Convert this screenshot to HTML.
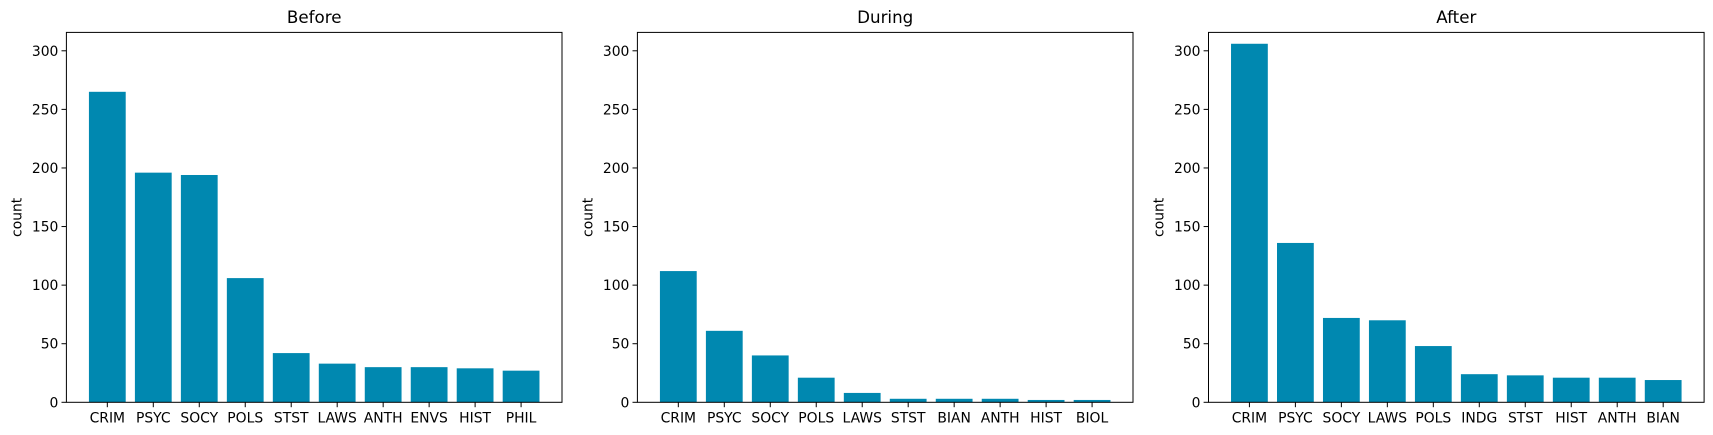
<!DOCTYPE html>
<html><head><meta charset="utf-8"><style>
body{margin:0;background:#fff;}
svg{display:block;font-family:"DejaVu Sans","Liberation Sans",sans-serif;}
</style></head><body>
<svg id="chart" width="1713" height="435"></svg>
<script>
const titles = ["Before","During","After"];
const catsBefore = ["CRIM","PSYC","SOCY","POLS","STST","LAWS","ANTH","ENVS","HIST","PHIL"];
const valsBefore = [265,196,194,106,42,33,30,30,29,27];
const catsDuring = ["CRIM","PSYC","SOCY","POLS","LAWS","STST","BIAN","ANTH","HIST","BIOL"];
const valsDuring = [112,61,40,21,8,3,3,3,2,2];
const catsAfter = ["CRIM","PSYC","SOCY","LAWS","POLS","INDG","STST","HIST","ANTH","BIAN"];
const valsAfter = [306,136,72,70,48,24,23,21,21,19];
const yTicks = [0,50,100,150,200,250,300];
const yMax = 315.7;

const NS="http://www.w3.org/2000/svg";
const svg=document.getElementById('chart');
function mk(tag,attrs,parent){const e=document.createElementNS(NS,tag);for(const k in attrs)e.setAttribute(k,attrs[k]);(parent||svg).appendChild(e);return e;}
const panels=[{cats:catsBefore,vals:valsBefore,left:66.4},{cats:catsDuring,vals:valsDuring,left:637.4},{cats:catsAfter,vals:valsAfter,left:1208.5}];
const W=495.6, axTop=32.4, axBottom=402.3;
panels.forEach((p,pi)=>{
  const g=mk('g',{});
  
  
  const n=p.cats.length;
  const xlo=-0.4-0.05*(n-1+0.8), xhi=n-1+0.4+0.05*(n-1+0.8);
  const xs=v=>p.left+(v-xlo)/(xhi-xlo)*W;
  const ys=v=>axBottom-v/yMax*(axBottom-axTop);
  p.vals.forEach((v,i)=>{
    const r=mk('rect',{x:xs(i-0.4),y:ys(v),width:xs(i+0.4)-xs(i-0.4),height:ys(0)-ys(v),fill:'#0088b0'},g);
    
    
    mk('line',{x1:xs(i),x2:xs(i),y1:axBottom,y2:axBottom+4.9,stroke:'#000','stroke-width':1},g);
    const t=mk('text',{x:xs(i),y:axBottom+20,'text-anchor':'middle','font-size':13.9,fill:'#000'},g);
    t.textContent=p.cats[i];
    
    
  });
  yTicks.forEach(v=>{
    mk('line',{x1:p.left-4.9,x2:p.left,y1:ys(v),y2:ys(v),stroke:'#000','stroke-width':1},g);
    const t=mk('text',{x:p.left-8,y:ys(v)+5,'text-anchor':'end','font-size':13.9,fill:'#000'},g);
    t.textContent=v;
    
    
  });
  const fr=mk('rect',{x:p.left,y:axTop,width:W,height:axBottom-axTop,fill:'none',stroke:'#000','stroke-width':1},g);
  
  
  const tt=mk('text',{x:p.left+W/2,y:23,'text-anchor':'middle','font-size':16.7,fill:'#000'},g);
  tt.textContent=titles[pi];
  
  
  const yl=mk('text',{x:0,y:0,'text-anchor':'middle','font-size':13.9,fill:'#000',transform:`translate(${p.left-45},${(axTop+axBottom)/2}) rotate(-90)`},g);
  yl.textContent='count';
  
  
});
</script>
</body></html>
